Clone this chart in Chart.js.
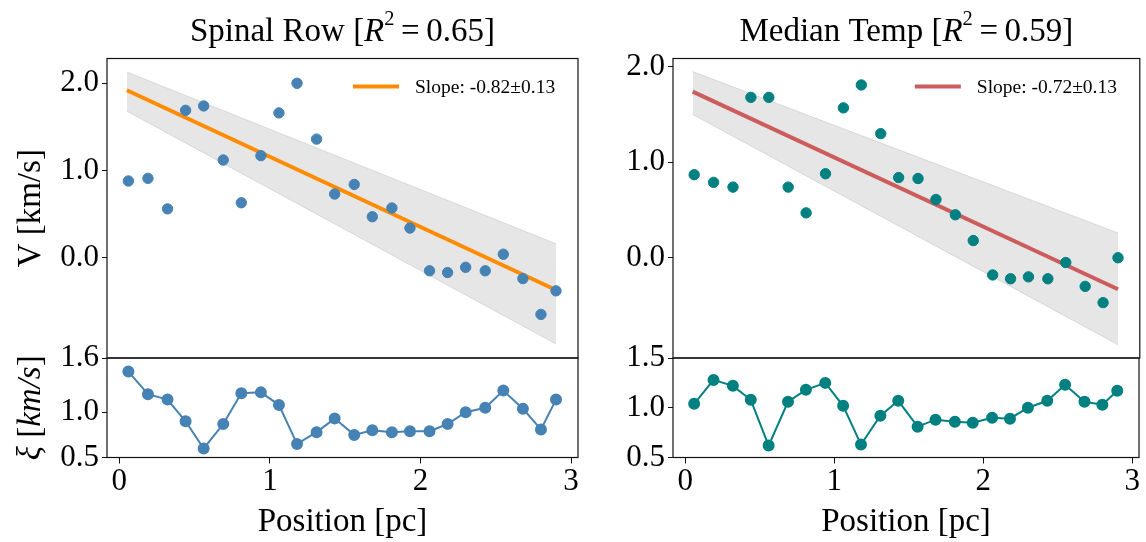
<!DOCTYPE html>
<html>
<head>
<meta charset="utf-8">
<script src="https://cdn.jsdelivr.net/npm/chart.js@4.4.1/dist/chart.umd.min.js"></script>
<style>
  html, body { margin: 0; padding: 0; background: #fff; width: 1146px; height: 542px; overflow: hidden; }
  canvas { position: absolute; left: 0; top: 0; }
</style>
</head>
<body>
<canvas id="spinalTop" width="1146" height="542"></canvas>
<canvas id="spinalBottom" width="1146" height="542"></canvas>
<canvas id="tempTop" width="1146" height="542"></canvas>
<canvas id="tempBottom" width="1146" height="542"></canvas>
<script>
// ---- data -------------------------------------------------------------
const positions = [0.06, 0.19, 0.32, 0.44, 0.56, 0.69, 0.81, 0.94, 1.06, 1.18, 1.31, 1.43,
                   1.56, 1.68, 1.81, 1.93, 2.06, 2.18, 2.30, 2.43, 2.55, 2.68, 2.80, 2.90];

const spinalV  = [0.88, 0.91, 0.56, 1.69, 1.74, 1.12, 0.63, 1.17, 1.66, 2.00, 1.36, 0.73,
                  0.84, 0.47, 0.57, 0.34, -0.15, -0.17, -0.11, -0.15, 0.04, -0.24, -0.65, -0.38];
const spinalXi = [1.45, 1.20, 1.14, 0.90, 0.60, 0.87, 1.21, 1.22, 1.08, 0.65, 0.78, 0.93,
                  0.75, 0.80, 0.78, 0.79, 0.79, 0.87, 1.00, 1.05, 1.24, 1.04, 0.81, 1.14];

const tempV  = [0.87, 0.79, 0.74, 1.68, 1.68, 0.74, 0.47, 0.88, 1.57, 1.81, 1.30, 0.84,
                0.83, 0.61, 0.45, 0.18, -0.18, -0.22, -0.20, -0.22, -0.05, -0.30, -0.47, 0.00];
const tempXi = [1.04, 1.28, 1.22, 1.08, 0.62, 1.06, 1.18, 1.25, 1.02, 0.63, 0.92, 1.07,
                0.81, 0.88, 0.86, 0.85, 0.90, 0.89, 1.00, 1.07, 1.23, 1.06, 1.03, 1.17];

// linear fits and their slope-uncertainty envelopes
const fitX        = [0.05, 2.90];
const spinalFit   = [1.92, -0.37];
const spinalUpper = [2.13, 0.16];
const spinalLower = [1.68, -0.99];
const tempFit     = [1.74, -0.33];
const tempUpper   = [1.95, 0.26];
const tempLower   = [1.50, -0.91];

const spinalSlope = "Slope: -0.82\u00B10.13";
const tempSlope   = "Slope: -0.72\u00B10.13";

// tick labels
const xTicks        = [0, 1, 2, 3];
const spinalVTicks  = [0.0, 1.0, 2.0];
const tempVTicks    = [0.0, 1.0, 2.0];
const spinalXiTicks = [0.5, 1.0, 1.6];
const tempXiTicks   = [0.5, 1.0, 1.5];

// ---- layout -----------------------------------------------------------
const W = 1146, H = 542;
const SERIF = "'Liberation Serif', 'Times New Roman', Times, serif";
const TICK_SIZE = 31;
const LABEL_SIZE = 33;
const LEFT  = { l: 107, r: 578 };
const RIGHT = { l: 673, r: 1143 };
const TOP_ROW = { t: 58.5, b: 358 };
const BOT_ROW = { t: 358, b: 457.5 };
const X_AXIS_H = 44;
const X_MIN = -0.082, X_MAX = 3.046;

const pts = (xs, ys) => xs.map((x, i) => ({ x, y: ys[i] }));

// draws a run of text pieces (upright / italic / raised) as one label
function drawRich(ctx, parts, x, y, size, opts = {}) {
  ctx.save();
  ctx.translate(x, y);
  if (opts.rotate) ctx.rotate(opts.rotate);
  ctx.fillStyle = '#000';
  ctx.textBaseline = 'alphabetic';
  ctx.textAlign = 'left';
  const fontOf = p => `${p.italic ? 'italic ' : ''}${size * (p.scale || 1)}px ${SERIF}`;
  let total = 0;
  for (const p of parts) { ctx.font = fontOf(p); p.w = ctx.measureText(p.text).width; total += p.w; }
  let cx = opts.align === 'left' ? 0 : -total / 2;
  const dy = opts.dy || 0;
  for (const p of parts) {
    ctx.font = fontOf(p);
    ctx.fillText(p.text, cx, dy - (p.rise || 0) * size);
    cx += p.w;
  }
  ctx.restore();
}

// frame, titles, axis labels and legend for one axes
function decorPlugin(spec) {
  return {
    id: 'decor',
    afterDraw(chart) {
      const { ctx, chartArea: a } = chart;
      ctx.save();
      ctx.strokeStyle = '#111';
      ctx.lineWidth = 1.2;
      ctx.strokeRect(a.left, a.top, a.right - a.left, a.bottom - a.top);
      ctx.restore();
      const cx = (a.left + a.right) / 2, cy = (a.top + a.bottom) / 2;
      if (spec.title) drawRich(ctx, spec.title, cx, 41, LABEL_SIZE);
      if (spec.yTitle) drawRich(ctx, spec.yTitle, 30, cy, LABEL_SIZE, { rotate: -Math.PI / 2, dy: 10 });
      if (spec.xTitle) drawRich(ctx, spec.xTitle, cx, 531, LABEL_SIZE);
      if (spec.legend) {
        const ds = chart.data.datasets.find(d => d.label);
        const y = 86.5;
        ctx.save();
        ctx.strokeStyle = ds.borderColor;
        ctx.lineWidth = ds.borderWidth;
        ctx.beginPath();
        ctx.moveTo(a.right - 225, y);
        ctx.lineTo(a.right - 179, y);
        ctx.stroke();
        ctx.fillStyle = '#000';
        ctx.font = `19.5px ${SERIF}`;
        ctx.textBaseline = 'middle';
        ctx.fillText(ds.label, a.right - 163, y + 1);
        ctx.restore();
      }
    }
  };
}

function yAxis(ticks, min, max, width) {
  return {
    type: 'linear', min, max,
    afterBuildTicks: s => { s.ticks = ticks.map(v => ({ value: v })); },
    afterFit: s => { s.width = width; },
    grid: { drawOnChartArea: false, drawTicks: true, tickLength: 5, color: '#111', lineWidth: 1 },
    border: { display: false },
    ticks: { color: '#000', padding: 3, font: { family: SERIF, size: TICK_SIZE },
             callback: v => Number(v).toFixed(1) }
  };
}

function xAxis(show) {
  return {
    type: 'linear', min: X_MIN, max: X_MAX, display: show,
    afterBuildTicks: s => { s.ticks = xTicks.map(v => ({ value: v })); },
    afterFit: s => { s.height = show ? X_AXIS_H : 0; },
    grid: { drawOnChartArea: false, drawTicks: true, tickLength: 6, color: '#111', lineWidth: 1 },
    border: { display: false },
    ticks: { color: '#000', padding: 0, maxRotation: 0, font: { family: SERIF, size: TICK_SIZE },
             callback: v => String(v) }
  };
}

function topChart(id, panel, v, fit, upper, lower, color, lineColor, slopeText, vTicks, yMin, yMax, decor) {
  return new Chart(document.getElementById(id), {
    type: 'scatter',
    data: {
      datasets: [
        { data: pts(positions, v), backgroundColor: color, borderColor: color,
          pointRadius: 5.2, pointHoverRadius: 5.2, order: 0 },
        { label: slopeText, data: pts(fitX, fit), showLine: true, borderColor: lineColor,
          borderWidth: 4, pointRadius: 0, order: 1 },
        { data: pts(fitX, upper), showLine: true, fill: '+1', borderColor: 'rgba(128,128,128,0.22)',
          backgroundColor: 'rgba(128,128,128,0.2)', borderWidth: 1, pointRadius: 0, order: 2 },
        { data: pts(fitX, lower), showLine: true, fill: false, borderColor: 'rgba(128,128,128,0.22)',
          borderWidth: 1, pointRadius: 0, order: 3 }
      ]
    },
    options: {
      responsive: false, animation: false, devicePixelRatio: 1,
      layout: { padding: { left: 0, right: W - panel.r, top: TOP_ROW.t, bottom: H - TOP_ROW.b } },
      plugins: { legend: { display: false }, tooltip: { enabled: false } },
      scales: { x: xAxis(false), y: yAxis(vTicks, yMin, yMax, panel.l) }
    },
    plugins: [decorPlugin(decor)]
  });
}

function bottomChart(id, panel, xi, color, xiTicks, yMin, yMax, decor) {
  return new Chart(document.getElementById(id), {
    type: 'scatter',
    data: {
      datasets: [
        { data: pts(positions, xi), showLine: true, borderColor: color, backgroundColor: color,
          borderWidth: 2, pointRadius: 5, pointHoverRadius: 5 }
      ]
    },
    options: {
      responsive: false, animation: false, devicePixelRatio: 1,
      layout: { padding: { left: 0, right: W - panel.r, top: BOT_ROW.t, bottom: H - BOT_ROW.b - X_AXIS_H } },
      plugins: { legend: { display: false }, tooltip: { enabled: false } },
      scales: { x: xAxis(true), y: yAxis(xiTicks, yMin, yMax, panel.l) }
    },
    plugins: [decorPlugin(decor)]
  });
}

const positionLabel = [{ text: 'Position [pc]' }];

topChart('spinalTop', LEFT, spinalV, spinalFit, spinalUpper, spinalLower,
  '#4682b4', '#ff8c00', spinalSlope, spinalVTicks, -1.15, 2.284, {
    title: [{ text: 'Spinal Row [' }, { text: 'R', italic: true }, { text: '2', scale: 0.62, rise: 0.5 },
            { text: '\u2009=\u20090.65]' }],
    yTitle: [{ text: 'V [km/s]' }],
    legend: true
  });

bottomChart('spinalBottom', LEFT, spinalXi, '#4682b4', spinalXiTicks, 0.5, 1.6, {
  yTitle: [{ text: '\u03BE', italic: true }, { text: ' [' }, { text: 'km/s', italic: true }, { text: ']' }],
  xTitle: positionLabel
});

topChart('tempTop', RIGHT, tempV, tempFit, tempUpper, tempLower,
  '#008080', '#cd5c5c', tempSlope, tempVTicks, -1.05, 2.087, {
    title: [{ text: 'Median Temp [' }, { text: 'R', italic: true }, { text: '2', scale: 0.62, rise: 0.5 },
            { text: '\u2009=\u20090.59]' }],
    legend: true
  });

bottomChart('tempBottom', RIGHT, tempXi, '#008080', tempXiTicks, 0.5, 1.5, {
  xTitle: positionLabel
});
</script>
</body>
</html>
